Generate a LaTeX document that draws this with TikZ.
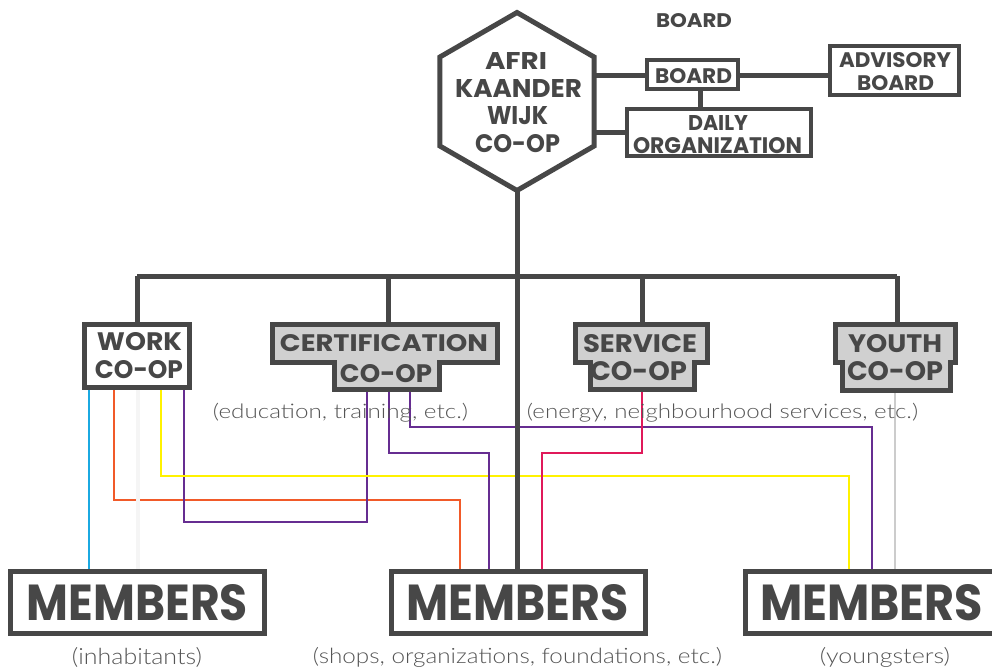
\documentclass[tikz,border=0pt]{standalone}
\usepackage{fontspec}
\newfontfamily\hd{Poppins}
\newfontfamily\lt{Lato Light}
\definecolor{dk}{HTML}{474747}
\definecolor{cfill}{HTML}{D0D0D0}
\definecolor{ccyan}{HTML}{1BA9E1}
\definecolor{corange}{HTML}{F15A29}
\definecolor{cyellow}{HTML}{FFF200}
\definecolor{cpurple}{HTML}{662D91}
\definecolor{ccrimson}{HTML}{E0195A}
\definecolor{csub}{HTML}{555555}
\newcommand\capline[6]{\node[captext] (#1) at (#2,#3) {\resizebox{#4pt}{#5pt}{\hd\bfseries #6}};}
\newcommand\subline[6]{\node[subtext] (#1) at (#2,#3) {\resizebox*{#4pt}{#5pt}{\lt #6}};}
\begin{document}
\begin{tikzpicture}[x=1pt,y=-1pt,
  captext/.style={inner sep=0pt,anchor=base,text=dk},
  subtext/.style={inner sep=0pt,anchor=center,text=csub},
  thick line/.style={draw=dk,line width=5pt},
  boxnode/.style={draw=dk,line width=4pt,fill=white,inner sep=0pt,outer sep=0pt},
  mbox/.style={draw=dk,line width=5pt,fill=white,inner sep=0pt,outer sep=0pt,minimum width=254pt,minimum height=62pt},
  coop/.style={draw=dk,line width=5pt,fill=cfill,line join=miter},
  wire/.style={line width=2pt}]
\useasboundingbox (0,0) rectangle (992,670);
\clip (0,0) rectangle (992,670);
\fill[white] (0,0) rectangle (992,670);

% colored wires
\coordinate (w1) at (89,390);   \coordinate (m1a) at (89,571);
\draw[wire,ccyan] (w1) -- (m1a);
\coordinate (w2) at (114,390);  \coordinate (m2a) at (460,571);
\draw[wire,corange] (w2) |- (m2a |- 0,500) -- (m2a);
\coordinate (w4) at (184,390);  \coordinate (c1) at (367,392);
\draw[wire,cpurple] (w4) |- (c1 |- 0,522) -- (c1);
\coordinate (w3) at (161,390);  \coordinate (m3a) at (849,571);
\draw[wire,cyellow] (w3) |- (m3a |- 0,476) -- (m3a);
\coordinate (c2) at (389,392);  \coordinate (m2b) at (489,571);
\draw[wire,cpurple] (c2) |- (m2b |- 0,453) -- (m2b);
\coordinate (c3) at (410,392);  \coordinate (m3b) at (872,571);
\draw[wire,cpurple] (c3) |- (m3b |- 0,427) -- (m3b);
\coordinate (s1) at (642,392);  \coordinate (m2c) at (542,571);
\draw[wire,ccrimson] (s1) |- (m2c |- 0,453) -- (m2c);
\coordinate (wf) at (138,390);  \coordinate (m1f) at (138,571);
\draw[line width=4pt,color=black!4] (wf) -- (m1f);
\coordinate (yf) at (895,393);  \coordinate (m3f) at (895,571);
\draw[line width=1.2pt,color=black!20] (yf) -- (m3f);

% hexagon
\coordinate (hx) at (517,101.5);
\coordinate (htop) at (517,12.5);
\coordinate (hbot) at (517,190.5);
\coordinate (hr1) at (594.1,75);
\coordinate (hr2) at (594.1,132);
\draw[draw=dk,line width=5pt,fill=white,line join=miter]
  (517,12.5) -- (594.1,57) -- (594.1,146) -- (517,190.5) -- (439.9,146) -- (439.9,57) -- cycle;

% top boxes
\node[boxnode,minimum width=91pt,minimum height=29pt] (board) at (692.5,74.5) {};
\node[boxnode,minimum width=129pt,minimum height=49pt] (advisory) at (894.5,70.5) {};
\node[boxnode,minimum width=184pt,minimum height=47pt] (daily) at (719,132.5) {};
\draw[thick line] (hr1) -- (board.west |- hr1);
\draw[thick line] (board.east |- hr1) -- (advisory.west |- hr1);
\draw[thick line] (board.south -| 700,0) -- (daily.north -| 700,0);
\draw[thick line] (hr2) -- (daily.west |- hr2);

% co-op shapes
\node[draw=dk,line width=5pt,fill=white,inner sep=0pt,outer sep=0pt,minimum width=105pt,minimum height=63pt] (work) at (137,356) {};
\draw[coop] (272.5,324.5) -- (497.5,324.5) -- (497.5,362) -- (439.5,362) -- (439.5,389.5) -- (334.5,389.5) -- (334.5,362) -- (272.5,362) -- cycle;
\coordinate (certtop) at (388,324.5);
\draw[coop] (575.5,324.5) -- (707.5,324.5) -- (707.5,362) -- (694.5,362) -- (694.5,389.5) -- (590.5,389.5) -- (590.5,362) -- (575.5,362) -- cycle;
\coordinate (servtop) at (642,324.5);
\draw[coop] (835.5,324.5) -- (955.5,324.5) -- (955.5,362) -- (950.5,362) -- (950.5,390.5) -- (842.5,390.5) -- (842.5,362) -- (835.5,362) -- cycle;
\coordinate (youthtop) at (897,324.5);

% tree lines
\coordinate (barL) at (137,276);
\coordinate (barR) at (897,276);
\draw[thick line] (barL) -- (barR);
\draw[thick line] (barL) -- (work.north);
\draw[thick line] (certtop |- barL) -- (certtop);
\draw[thick line] (servtop |- barL) -- (servtop);
\draw[thick line] (barR) -- (youthtop);

% members boxes
\node[mbox] (mem1) at (137.5,602.5) {};
\node[mbox] (mem2) at (518.5,602.5) {};
\node[mbox] (mem3) at (872.5,602.5) {};
\draw[thick line] (hbot) -- (mem2.north -| hbot);

% texts
\capline{tboard}{694}{27}{76}{14}{BOARD}
\capline{h1}{516}{69}{62}{17}{AFRI}
\capline{h2}{518.5}{97}{127}{18}{KAANDER}
\capline{h3}{517.5}{124}{61}{18}{WIJK}
\capline{h4}{517.5}{152}{85}{18}{CO-OP}
\capline{bt}{693.5}{83}{77}{15}{BOARD}
\capline{a1}{895}{67}{112}{15}{ADVISORY}
\capline{a2}{895.5}{90}{77}{15}{BOARD}
\capline{d1}{718}{130}{60}{15}{DAILY}
\capline{d2}{717.5}{153}{169}{16}{ORGANIZATION}
\capline{wk1}{139.5}{350}{85}{18}{WORK}
\capline{wk2}{139}{378}{88}{18}{CO-OP}
\capline{ct1}{384}{351}{208}{17}{CERTIFICATION}
\capline{ct2}{386}{382}{92}{18}{CO-OP}
\capline{sv1}{640}{352}{114}{18}{SERVICE}
\capline{sv2}{638.5}{380}{97}{19}{CO-OP}
\capline{yt1}{895}{352}{94}{18}{YOUTH}
\capline{yt2}{895}{380}{96}{19}{CO-OP}
\capline{mt1}{137.5}{620}{221}{36}{MEMBERS}
\capline{mt2}{517.5}{620}{222}{36}{MEMBERS}
\capline{mt3}{871.5}{620}{223}{36}{MEMBERS}

\subline{sc}{340.5}{412.5}{255}{19}{(education, training, etc.)}
\subline{ss}{722.5}{412.5}{391}{19}{(energy, neighbourhood services, etc.)}
\subline{s1}{137}{657}{130}{20}{(inhabitants)}
\subline{s2}{517.5}{657}{409}{20}{(shops, organizations, foundations, etc.)}
\subline{s3}{885}{657}{130}{20}{(youngsters)}
\end{tikzpicture}
\end{document}
